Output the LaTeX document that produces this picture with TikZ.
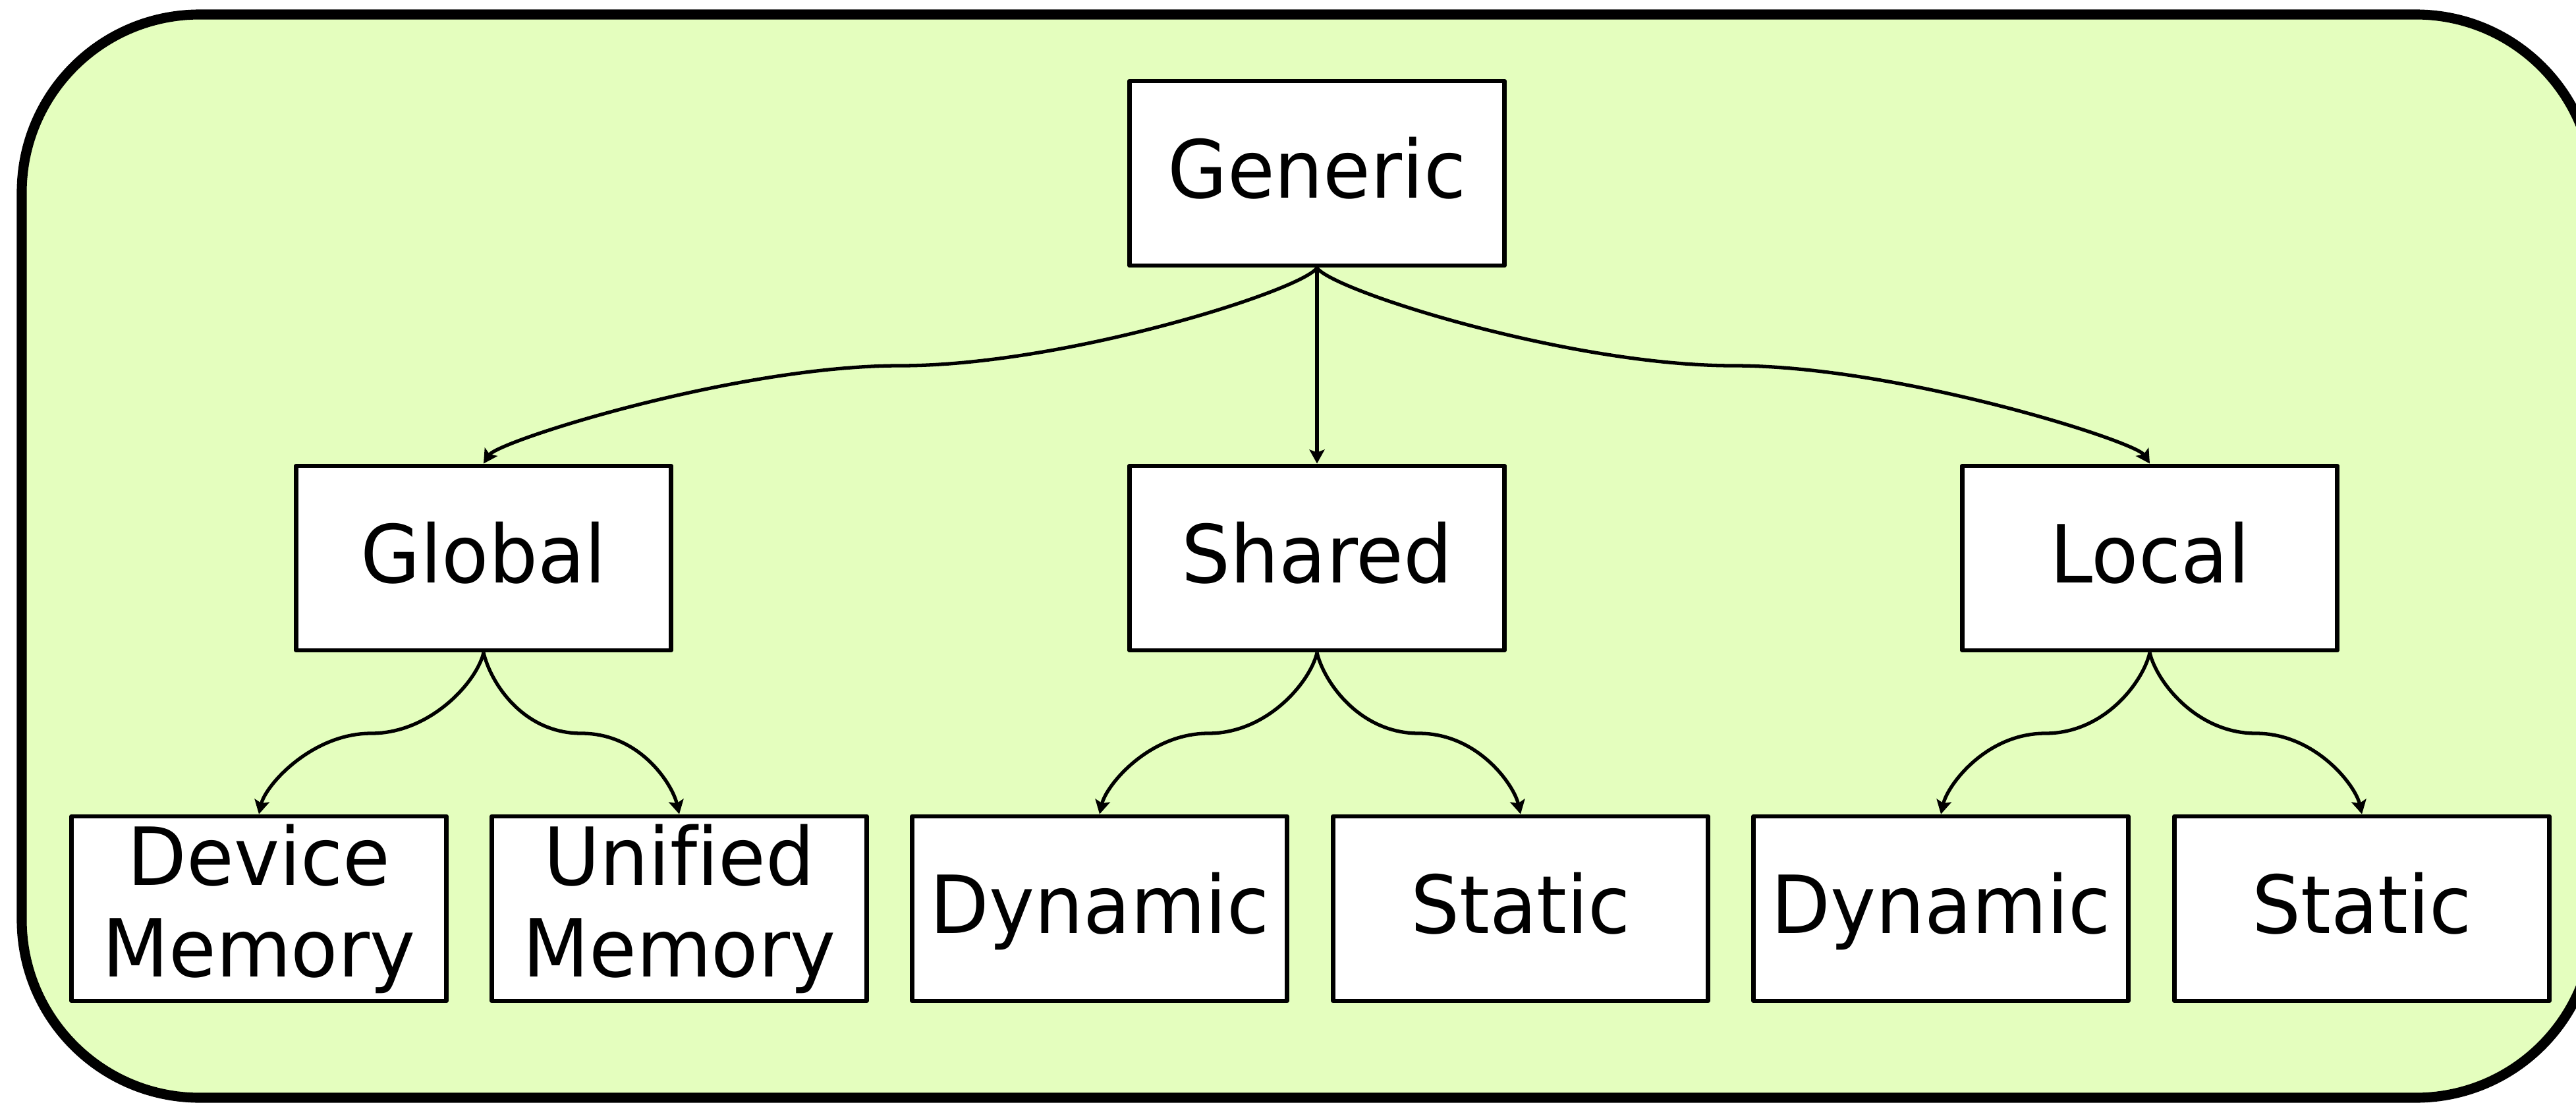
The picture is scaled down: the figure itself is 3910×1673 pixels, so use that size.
\documentclass[tikz,border=0pt]{standalone}
\usepackage{fontspec}
\setmainfont{DejaVu Sans}[FakeStretch=0.96,Ligatures=NoCommon]
\usetikzlibrary{arrows.meta,calc}
\definecolor{bgreen}{HTML}{E4FEBE}
\tikzset{
  box/.style={draw=black,line width=1.9pt,fill=white,line join=round,
    minimum width=5.69cm,minimum height=2.8cm,inner sep=0pt,align=center,
    font=\fontsize{34.6}{39.5}\selectfont},
  onebox/.style={box,text height=25pt,text depth=3.4pt},
  arr/.style={line width=1.5pt,-{Stealth[length=6pt,width=6.5pt,inset=1.2pt]}},
  frame/.style={draw=black,line width=4.3pt,fill=bgreen,rounded corners=2.7cm}
}
\begin{document}
\begin{tikzpicture}[x=0.01cm,y=-0.01cm]
\useasboundingbox (0,0) rectangle (3910,1673);
\fill[white] (0,0) rectangle (3910,1673);
\begin{scope}
\clip (0,0) rectangle (3910,1673);
\draw[frame] (33,22) rectangle (3937,1666);
\end{scope}

\node[onebox] (gen) at (1999,263) {Generic};
\node[onebox] (glo) at (734,847) {Global};
\node[onebox] (sha) at (1999,847) {Shared};
\node[onebox] (loc) at (3263,847) {Local};
\node[box] (dev) at (393,1379) {Device\\Memory};
\node[box] (uni) at (1031,1379) {Unified\\Memory};
\node[onebox] (dyn1) at (1669,1379) {Dynamic};
\node[onebox] (sta1) at (2308,1379) {Static};
\node[onebox] (dyn2) at (2946,1379) {Dynamic};
\node[onebox] (sta2) at (3585,1379) {Static};

% top level
\draw[arr] (gen.south) -- (sha.north);
\draw[arr] (gen.south) .. controls +(-22,34) and +(250,0) .. ($(gen.south)!0.5!(glo.north)$)
  .. controls +(-250,0) and +(22,-34) .. (glo.north);
\draw[arr] (gen.south) .. controls +(22,34) and +(-250,0) .. ($(gen.south)!0.5!(loc.north)$)
  .. controls +(250,0) and +(-22,-34) .. (loc.north);

% second level
\foreach \p/\l/\r in {glo/dev/uni, sha/dyn1/sta1, loc/dyn2/sta2}{
  \draw[arr] (\p.south) .. controls +(-10,44) and +(90,0) .. ($(\p.south)!0.5!(\l.north)$)
    .. controls +(-90,0) and +(10,-44) .. (\l.north);
  \draw[arr] (\p.south) .. controls +(10,44) and +(-90,0) .. ($(\p.south)!0.5!(\r.north)$)
    .. controls +(90,0) and +(-10,-44) .. (\r.north);
}
\end{tikzpicture}
\end{document}
